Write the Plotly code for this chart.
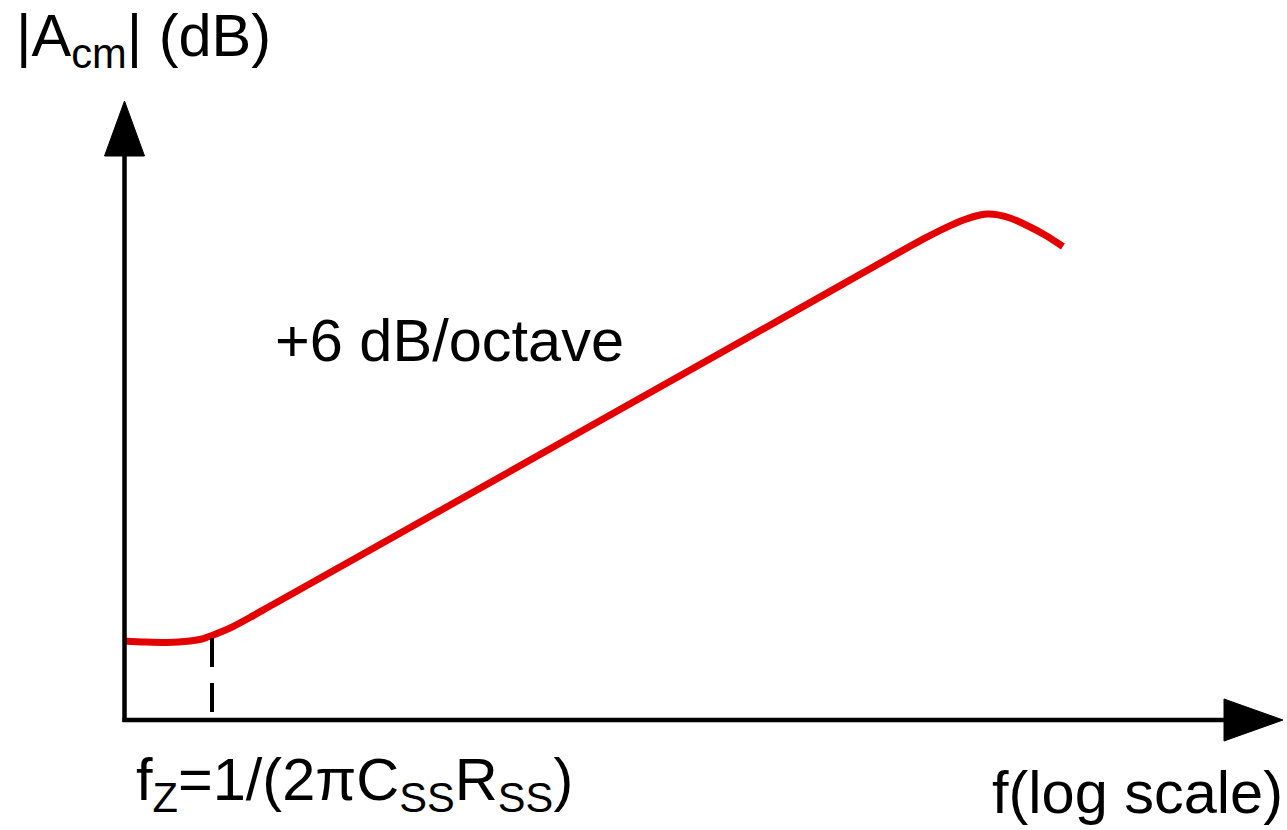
import plotly.graph_objects as go

# ---- data (x: octaves along log-frequency axis, y: |Acm| in dB, arbitrary origin) ----
curve_x = [0.0, 0.29, 0.594, 0.911, 1.077, 1.215, 1.353, 1.505, 1.739, 2.057,
           3.81, 6.57, 9.33, 11.057, 11.333, 11.609, 11.816, 11.927,
           12.065, 12.231, 12.438, 12.714, 12.962]
curve_y = [11.47, 11.32, 11.25, 11.47, 11.76, 12.27, 12.85, 13.57, 14.88, 16.77,
           27.11, 43.43, 59.75, 69.94, 71.41, 72.65, 73.30, 73.45,
           73.33, 72.87, 71.93, 70.41, 68.74]
fz_x = [1.215, 1.215]
fz_y = [11.9, 1.16]

x_range = [0, 16]
y_range = [0, 90]

y_label = "|A<sub>cm</sub>| (dB)"
x_label = "f(log scale)"
slope_label = "+6 dB/octave"
fz_label = "f<sub>Z</sub>=1/(2πC<sub>SS</sub>R<sub>SS</sub>)"

# ---- layout geometry (pixels) ----
W, H = 1287, 830
L, R, T, B = 124, 4, 100, 110
PW, PH = W - L - R, H - T - B


def px(xp):
    return (xp - L) / PW


def py(yp):
    return (H - B - yp) / PH


FONT = "Liberation Sans, Arial, sans-serif"
FS = 59.5
RED = "#e40000"

fig = go.Figure()
fig.add_trace(go.Scatter(x=curve_x, y=curve_y, mode="lines",
                         line=dict(color=RED, width=7, shape="spline", smoothing=0.8),
                         hoverinfo="skip", showlegend=False))
fig.add_trace(go.Scatter(x=fz_x, y=fz_y, mode="lines",
                         line=dict(color="black", width=4, dash="29px,16px"),
                         hoverinfo="skip", showlegend=False))

shapes = [
    dict(type="line", xref="paper", yref="paper",
         x0=px(124.5), x1=px(124.5), y0=py(722), y1=py(150),
         line=dict(color="black", width=4.5)),
    dict(type="line", xref="paper", yref="paper",
         x0=px(122.5), x1=px(1230), y0=py(720), y1=py(720),
         line=dict(color="black", width=4.5)),
    dict(type="path", xref="paper", yref="paper",
         path=f"M {px(104.5)} {py(156)} L {px(124.5)} {py(101)} L {px(144.5)} {py(156)} Z",
         fillcolor="black", line=dict(color="black", width=1)),
    dict(type="path", xref="paper", yref="paper",
         path=f"M {px(1224)} {py(699)} L {px(1283)} {py(720)} L {px(1224)} {py(741)} Z",
         fillcolor="black", line=dict(color="black", width=1)),
]

annotations = [
    dict(text=y_label, xref="paper", yref="paper", x=px(14), y=py(39),
         xanchor="left", yanchor="middle", showarrow=False,
         font=dict(family=FONT, size=FS, color="black")),
    dict(text=slope_label, xref="paper", yref="paper", x=px(273), y=py(340),
         xanchor="left", yanchor="middle", showarrow=False,
         font=dict(family=FONT, size=FS, color="black")),
    dict(text=fz_label, xref="paper", yref="paper", x=px(134), y=py(783),
         xanchor="left", yanchor="middle", showarrow=False,
         font=dict(family=FONT, size=FS, color="black")),
    dict(text=x_label, xref="paper", yref="paper", x=px(990), y=py(792),
         xanchor="left", yanchor="middle", showarrow=False,
         font=dict(family=FONT, size=FS, color="black")),
]

fig.update_layout(
    width=W, height=H,
    margin=dict(l=L, r=R, t=T, b=B),
    paper_bgcolor="white", plot_bgcolor="white",
    xaxis=dict(range=x_range, visible=False, fixedrange=True),
    yaxis=dict(range=y_range, visible=False, fixedrange=True),
    shapes=shapes, annotations=annotations,
    showlegend=False,
)

fig.write_html("out.html", config={"displayModeBar": False},
               post_script="document.body.style.margin='0px';document.body.style.overflow='hidden';")
